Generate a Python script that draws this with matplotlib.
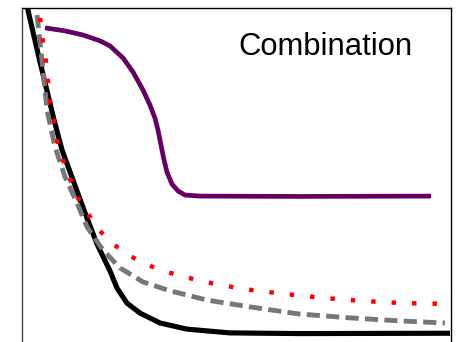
import matplotlib
matplotlib.use("Agg")
import matplotlib.pyplot as plt

# Series (x: 0-100, y: 0-100)
black_x = [1.05, 4.31, 7.57, 9.43, 11.99, 14.78, 17.58, 20.61, 22.24, 24.56, 27.59, 32.25, 38.53, 48.55, 64.84, 99.77]
black_y = [101.8, 84.2, 67.3, 58.5, 49.7, 40.1, 31.0, 23.1, 18.1, 13.7, 10.8, 7.9, 6.1, 5.0, 4.8, 4.9]

gray_x = [3.61, 4.77, 5.94, 7.80, 10.13, 12.92, 15.25, 18.98, 22.93, 28.29, 34.58, 43.19, 53.20, 64.84, 76.48, 88.13, 98.60]
gray_y = [97.95, 84.8, 70.2, 59.4, 50.6, 43.0, 36.0, 29.2, 24.0, 19.9, 17.3, 14.6, 12.6, 10.5, 9.4, 8.5, 7.9]

red_x = [4.31, 5.01, 5.70, 6.17, 6.64, 7.57, 8.27, 9.66, 11.29, 13.15, 15.48, 18.04, 21.30, 25.26, 29.22, 33.88, 38.30, 42.72, 51.81, 61.12, 70.43, 79.74, 89.06, 98.37]
red_y = [97.1, 90.1, 84.2, 78.7, 72.8, 67.0, 61.4, 55.6, 50.0, 44.4, 39.8, 35.1, 31.0, 27.5, 24.9, 22.8, 21.3, 19.9, 17.8, 16.4, 15.2, 14.3, 13.7, 13.5]

purple_x = [5.47, 10.13, 14.32, 18.28, 20.61, 23.63, 25.96, 28.29, 29.92, 31.08, 31.78, 32.48, 33.18, 33.88, 35.04, 36.44, 38.07, 41.56, 64.84, 95.34]
purple_y = [94.2, 93.3, 92.1, 90.4, 88.9, 85.4, 81.3, 76.0, 71.6, 67.8, 64.3, 59.9, 55.6, 52.0, 48.5, 46.5, 45.3, 45.0, 44.9, 45.0]

title = "Combination"

fig = plt.figure(figsize=(4.57, 3.42), dpi=100)
ax = fig.add_axes([21.5 / 457, -8 / 342, 429.5 / 457, 1.0])
ax.set_xlim(0, 100)
ax.set_ylim(0, 100)

ax.plot(black_x, black_y, color="black", lw=3.7, solid_capstyle="butt", solid_joinstyle="round")
ax.plot(gray_x, gray_y, color="#777777", lw=3.5, dashes=(2.7, 1.3), dash_joinstyle="round")
ax.plot(red_x, red_y, color="#ff0000", lw=3.2, dashes=(1.0, 3.6))
ax.plot(purple_x, purple_y, color="#660066", lw=3.4, solid_capstyle="butt", solid_joinstyle="round")

ax.set_xticks([])
ax.set_yticks([])
for s in ax.spines.values():
    s.set_linewidth(1.0)
    s.set_color("black")
ax.spines["left"].set_color("#444444")

fig.text(238 / 457, (342 - 55) / 342, title, fontsize=22.3,
         family=["Liberation Sans", "DejaVu Sans"], ha="left", va="baseline")

fig.savefig("out.png", dpi=100)
